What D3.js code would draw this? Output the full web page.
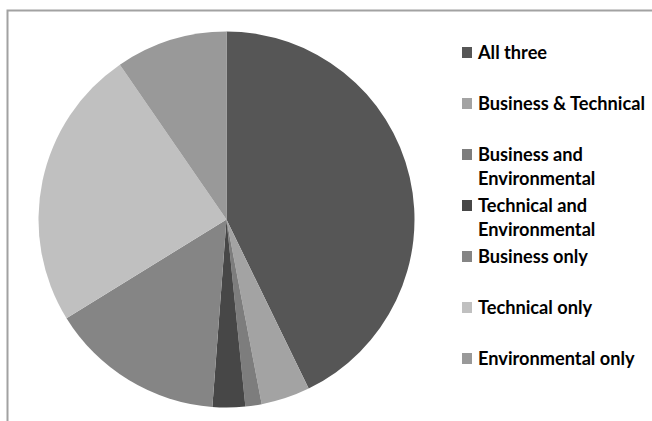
<!DOCTYPE html>
<html>
<head>
<meta charset="utf-8">
<script src="https://cdn.jsdelivr.net/npm/d3@7"></script>
<style>
  html, body { margin: 0; padding: 0; background: #fff; }
  svg { display: block; }
</style>
</head>
<body>
<svg id="chart" width="652" height="421"></svg>
<script>
// Share of respondents by combination of skills (percent)
const categories = [
  "All three",
  "Business & Technical",
  "Business and Environmental",
  "Technical and Environmental",
  "Business only",
  "Technical only",
  "Environmental only"
];
const values = [42.8, 4.2, 1.4, 2.8, 15.0, 24.2, 9.6];
const colors = ["#565656", "#a3a3a3", "#7d7d7d", "#474747", "#858585", "#c0c0c0", "#999999"];

const W = 652, H = 421;
const svg = d3.select("#chart");

// Chart area frame (top and left edges visible)
svg.append("path")
  .attr("d", `M7.5,${H} L7.5,10.5 L${W},10.5`)
  .attr("fill", "none")
  .attr("stroke", "#a2a2a2")
  .attr("stroke-width", 2);

// Pie
const cx = 226.5, cy = 219.5, r = 188;
const pie = d3.pie().sort(null).value(d => d.value);
const arc = d3.arc().innerRadius(0).outerRadius(r);
const data = categories.map((c, i) => ({ name: c, value: values[i], color: colors[i] }));

svg.append("g")
  .attr("transform", `translate(${cx},${cy})`)
  .selectAll("path")
  .data(pie(data))
  .join("path")
  .attr("d", arc)
  .attr("fill", d => d.data.color);

// Legend
const legendX = 462, legendY0 = 59, rowStep = 51, lineStep = 24;
const fontFamily = "Lato, 'Open Sans', sans-serif";

function wrapLabel(label) {
  if (label.length <= 20) return [label];
  const words = label.split(" ");
  const last = words.pop();
  return [words.join(" "), last];
}

const legend = svg.append("g").attr("class", "legend");
data.forEach((d, i) => {
  const y = legendY0 + i * rowStep;
  const g = legend.append("g");
  g.append("rect")
    .attr("x", legendX)
    .attr("y", y - 12)
    .attr("width", 10)
    .attr("height", 11)
    .attr("fill", d.color);
  const lines = wrapLabel(d.name);
  lines.forEach((ln, j) => {
    g.append("text")
      .attr("class", "lbl")
      .attr("x", legendX + 16)
      .attr("y", y + j * lineStep)
      .attr("font-family", fontFamily)
      .attr("font-size", 19)
      .attr("font-weight", 700)
      .attr("fill", "#000")
      .text(ln);
  });
});

// Condense the legend face so the widest single-line entry spans 167px
const widest = legend.selectAll("text.lbl")
  .filter(function () { return this.textContent === "Business & Technical"; })
  .node();
const squeeze = 167 / widest.getComputedTextLength();
legend.selectAll("text.lbl").each(function () {
  d3.select(this)
    .attr("textLength", this.getComputedTextLength() * squeeze)
    .attr("lengthAdjust", "spacingAndGlyphs");
});
</script>
</body>
</html>
